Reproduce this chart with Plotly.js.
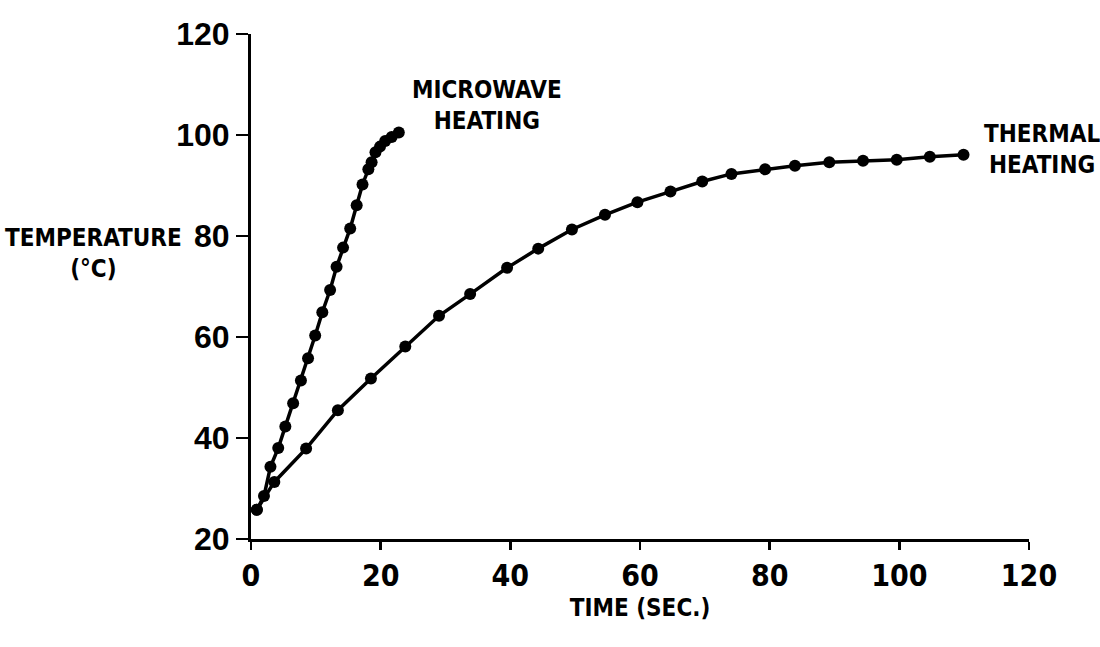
<!DOCTYPE html>
<html>
<head>
<meta charset="utf-8">
<script src="https://cdn.plot.ly/plotly-3.0.1.min.js"></script>
<style>html,body{margin:0;padding:0;background:#fff;}#chart{width:1100px;height:647px;}</style>
</head>
<body>
<div id="chart"></div>
<script>
// Microwave heating: time (s) and temperature (°C)
const microwaveTime = [0.9, 2.0, 3.0, 4.2, 5.3, 6.5, 7.7, 8.8, 9.9, 11.0, 12.2, 13.2, 14.2, 15.3, 16.3, 17.2, 18.1, 18.6, 19.2, 19.9, 20.7, 21.7, 22.8];
const microwaveTemp = [25.8, 28.5, 34.3, 38.0, 42.3, 46.9, 51.4, 55.8, 60.3, 64.9, 69.3, 73.9, 77.7, 81.5, 86.1, 90.2, 93.2, 94.6, 96.6, 97.7, 98.8, 99.6, 100.5];

// Thermal heating
const thermalTime = [0.9, 3.6, 8.5, 13.4, 18.5, 23.8, 29.0, 33.8, 39.5, 44.3, 49.5, 54.6, 59.6, 64.7, 69.6, 74.1, 79.3, 83.9, 89.2, 94.4, 99.6, 104.7, 109.9];
const thermalTemp = [25.8, 31.3, 37.9, 45.5, 51.8, 58.1, 64.2, 68.5, 73.7, 77.5, 81.3, 84.2, 86.7, 88.8, 90.8, 92.3, 93.2, 93.9, 94.6, 94.9, 95.1, 95.7, 96.1];

const xTickVals = [0, 20, 40, 60, 80, 100, 120];
const yTickVals = [20, 40, 60, 80, 100, 120];

const condFamily = '"DejaVu Sans Condensed", "DejaVu Sans", sans-serif';
const labelFont = {family: condFamily, size: 24, color: '#000', weight: 'bold', stretch: 'condensed'};

const lineStyle = {color: '#000', width: 3.5};
const markerStyle = {color: '#000', size: 12, symbol: 'circle'};

const traces = [
  {x: microwaveTime, y: microwaveTemp, mode: 'lines+markers', line: lineStyle, marker: markerStyle, name: 'Microwave heating', cliponaxis: false},
  {x: thermalTime, y: thermalTemp, mode: 'lines+markers', line: lineStyle, marker: markerStyle, name: 'Thermal heating', cliponaxis: false}
];

const axisCommon = {
  showline: true, linecolor: '#000', linewidth: 3,
  ticks: 'outside', tickwidth: 2.5, tickcolor: '#000',
  showgrid: false, zeroline: false, fixedrange: true
};

const layout = {
  width: 1100, height: 647,
  margin: {l: 251, r: 71, t: 34, b: 108},
  paper_bgcolor: '#fff', plot_bgcolor: '#fff',
  showlegend: false,
  xaxis: Object.assign({}, axisCommon, {
    range: [0, 120], tickvals: xTickVals, ticktext: xTickVals.map(String), ticklen: 8,
    tickfont: {family: condFamily, size: 30, color: '#000', weight: 'bold', stretch: 'condensed'},
    title: {text: 'TIME (SEC.)', font: labelFont, standoff: 8}
  }),
  yaxis: Object.assign({}, axisCommon, {
    range: [20, 120], tickvals: yTickVals, ticktext: yTickVals.map(String), ticklen: 12,
    tickfont: {family: '"Liberation Sans", Arial, sans-serif', size: 32, color: '#000', weight: 'bold'}
  }),
  annotations: [
    {text: 'MICROWAVE<br>HEATING', xref: 'paper', yref: 'paper', x: 0.3033, y: 0.858, xanchor: 'center', yanchor: 'middle', align: 'center', showarrow: false, font: labelFont},
    {text: 'THERMAL<br>HEATING', xref: 'paper', yref: 'paper', x: 1.0167, y: 0.772, xanchor: 'center', yanchor: 'middle', align: 'center', showarrow: false, font: labelFont},
    {text: 'TEMPERATURE<br>(°C)', xref: 'paper', yref: 'paper', x: -0.203, y: 0.565, xanchor: 'center', yanchor: 'middle', align: 'center', showarrow: false, font: labelFont}
  ]
};

Plotly.newPlot('chart', traces, layout, {displayModeBar: false, staticPlot: true});
</script>
</body>
</html>
